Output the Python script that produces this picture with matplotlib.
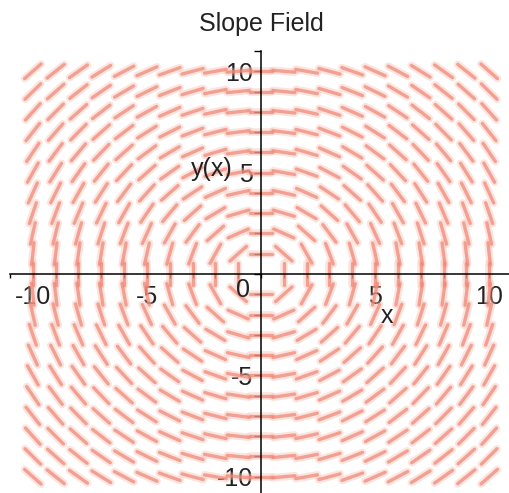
import matplotlib.pyplot as plt
import numpy as np
from matplotlib.collections import LineCollection

plt.rcParams['font.family'] = ['Liberation Sans Narrow', 'Liberation Sans', 'DejaVu Sans']

# slope field of dy/dx = -x/y on an integer grid
grid_x = [-10, -9, -8, -7, -6, -5, -4, -3, -2, -1, 0, 1, 2, 3, 4, 5, 6, 7, 8, 9, 10]
grid_y = [-10, -9, -8, -7, -6, -5, -4, -3, -2, -1, 0, 1, 2, 3, 4, 5, 6, 7, 8, 9, 10]
tick_pos = list(range(-11, 12))
x_ticklabels = {-10: "-10", -5: "-5", 5: "5", 10: "10"}
y_ticklabels = {-10: "-10", -5: "-5", 5: "5", 10: "10"}

W, H = 509, 493
fig = plt.figure(figsize=(W / 100, H / 100), dpi=100)
# axes box in pixels: x from 10 to 512, y from 51 to 497 (from top)
ax = fig.add_axes([10 / W, 1 - 497 / H, 502 / W, 446 / H])
ax.set_xlim(-11, 11)
ax.set_ylim(-11, 11)

sx = 502 / 22.0  # px per unit
sy = 446 / 22.0
seg_len = 22.0  # px

segs = []
for x in grid_x:
    for y in grid_y:
        if x == 0 and y == 0:
            continue
        px, py = y * sx, -x * sy
        n = np.hypot(px, py)
        dx = px / n * seg_len / 2 / sx
        dy = py / n * seg_len / 2 / sy
        segs.append([(x - dx, y - dy), (x + dx, y + dy)])

ax.add_collection(LineCollection(segs, colors="#f8b4a4", linewidths=5.5, alpha=0.35, capstyle="round"))
ax.add_collection(LineCollection(segs, colors="#f08878", linewidths=2.4, alpha=0.75, capstyle="round"))

for s in ["top", "right"]:
    ax.spines[s].set_visible(False)
ax.spines["left"].set_position(("data", 0))
ax.spines["bottom"].set_position(("data", 0))
ax.spines["left"].set_linewidth(1.1)
ax.spines["bottom"].set_linewidth(1.1)
ax.patch.set_alpha(0)

ax.set_xticks(tick_pos)
ax.set_xticklabels([x_ticklabels.get(t, "") for t in tick_pos])
ax.set_yticks(tick_pos)
ax.set_yticklabels([y_ticklabels.get(t, "") for t in tick_pos])
ax.tick_params(axis="x", direction="out", length=3, width=1, pad=5, labelsize=18, labelcolor="#222222")
ax.tick_params(axis="y", direction="out", length=5, width=1, pad=1, labelsize=18, labelcolor="#222222")

ax.text(-0.8, -0.2, "0", fontsize=18, ha="center", va="top", color="#222222")
ax.text(5.5, -2.05, "x", fontsize=18, ha="center", va="center", color="#222222")
ax.text(-2.15, 5.2, "y(x)", fontsize=18, ha="center", va="center", color="#222222")

fig.text(261 / W, 1 - 24 / H, "Slope Field", fontsize=18, ha="center", va="center", color="#222222")

fig.savefig("out.png", dpi=100)
